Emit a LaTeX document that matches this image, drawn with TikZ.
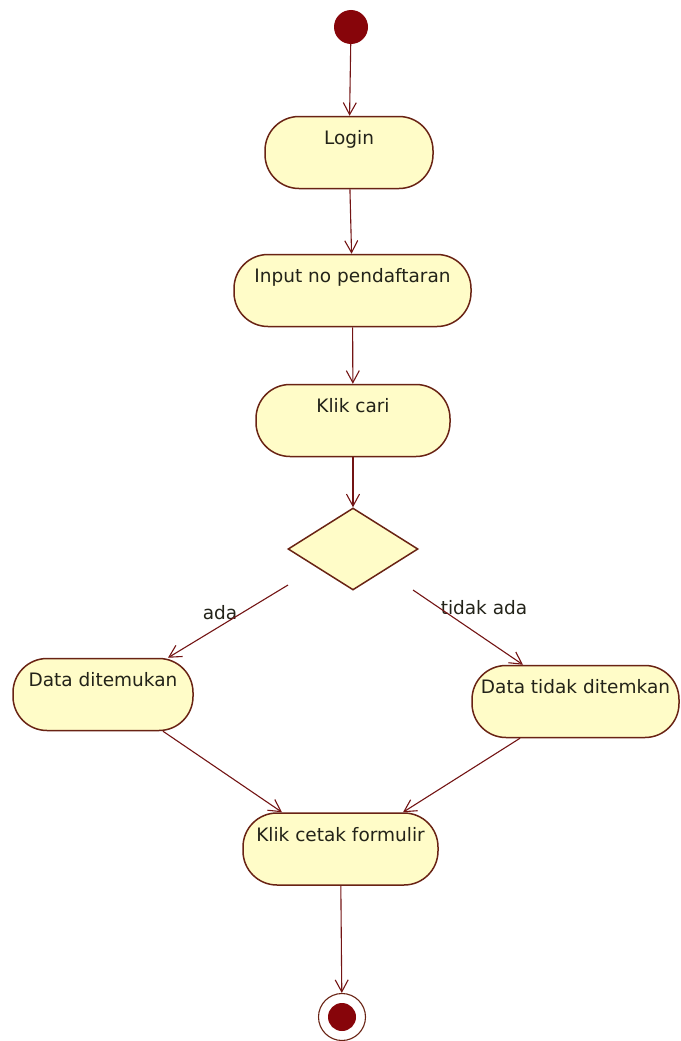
\documentclass[tikz,border=0pt]{standalone}
\usepackage{fontspec}
\setmainfont{DejaVu Sans}
\usetikzlibrary{arrows.meta, positioning, shapes.geometric, calc}

\definecolor{actfill}{RGB}{255,252,200}
\definecolor{actline}{RGB}{105,35,20}
\definecolor{flowline}{RGB}{115,20,20}
\definecolor{dotred}{RGB}{135,5,10}
\definecolor{txtdark}{RGB}{35,35,25}

\begin{document}
\begin{tikzpicture}[x=1pt, y=-1pt, >={Straight Barb[length=12pt,width=13pt]},
        every node/.style={font=\fontsize{18.5}{21}\selectfont, text=txtdark},
        activity/.style={draw=actline, line width=1.5pt, fill=actfill,
            rounded corners=34pt, inner xsep=4pt, inner ysep=0pt,
            text height=28pt, text depth=44pt},
        flow/.style={->, draw=flowline, line width=1.1pt}]
    \useasboundingbox (0,0) rectangle (680,1041);
    % awal dan akhir
    \node[circle, fill=dotred, minimum size=34pt, inner sep=0pt] (start) at (351,27) {};
    \node[circle, draw=actline, line width=1.1pt, fill=white, minimum size=47pt, inner sep=0pt] (end) at (342,1017) {};
    \node[circle, fill=dotred, minimum size=28pt, inner sep=0pt] (enddot) at (end) {};
    % aktivitas
    \node[activity, minimum width=168pt] (login)  at (349,152.5) {Login};
    \node[activity, minimum width=237pt] (input)  at (352.5,290.5) {Input no pendaftaran};
    \node[activity, minimum width=194pt] (cari)   at (353,420.5) {Klik cari};
    \node[diamond, draw=actline, line width=1.5pt, fill=actfill, inner sep=0pt,
        minimum width=130pt, minimum height=82pt] (cek) at (353,549) {};
    \node[activity, minimum width=180pt] (ketemu) at (103,694.5) {Data ditemukan};
    \node[activity, minimum width=207pt] (tidak)  at (575.5,701.5) {Data tidak ditemkan};
    \node[activity, minimum width=195pt] (cetak)  at (340.5,849) {Klik cetak formulir};
    % ujung bebas cabang keputusan
    \coordinate (adaS)   at (288,585);
    \coordinate (tidakS) at (413,590);
    % label cabang
    \node[inner sep=1pt] (lada)   at (220,613) {ada};
    \node[inner sep=1pt] (ltidak) at (484,608) {tidak ada};
    % alur
    \draw[flow] (start) -- (login);
    \draw[flow] (login) -- (input);
    \draw[flow] (input) -- (cari);
    \draw[flow] (cari) -- (cek);
    \draw[flow] (adaS) -- ([xshift=65pt]ketemu.north);
    \draw[flow] (tidakS) -- ([xshift=-52.5pt]tidak.north);
    \draw[flow] ([xshift=60pt]ketemu.south) -- ([xshift=-58.5pt]cetak.north);
    \draw[flow] ([xshift=-55.5pt]tidak.south) -- ([xshift=62.5pt]cetak.north);
    \draw[flow] (cetak) -- (end);
\end{tikzpicture}
\end{document}
